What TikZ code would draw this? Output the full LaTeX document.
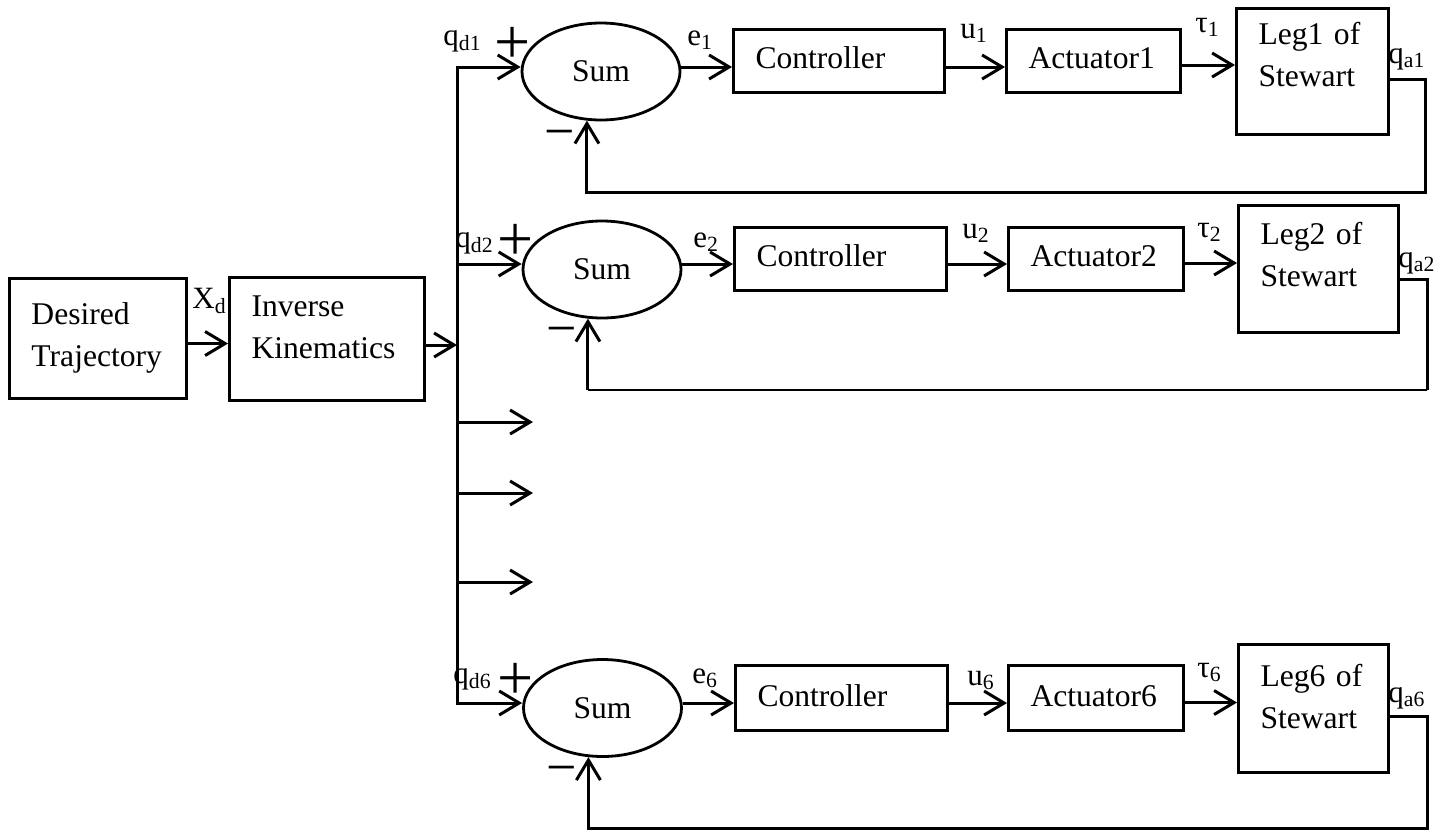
\documentclass[tikz,border=0pt]{standalone}
\usepackage{fontspec}
\setmainfont{Liberation Serif}
\usetikzlibrary{arrows.meta,positioning,calc,shapes.geometric}

\begin{document}
\begin{tikzpicture}[
  x=0.5pt, y=-0.5pt,
  every node/.style={font=\fontsize{15.8}{21}\selectfont},
  blk/.style={draw,line width=1.5pt,anchor=north west,align=left,inner xsep=11pt,inner ysep=0pt,text height=19.5pt},
  sum/.style={draw,ellipse,line width=1.4pt,minimum width=79pt,minimum height=48.5pt,inner sep=0pt},
  lbl/.style={anchor=base west,inner sep=0pt,font=\fontsize{15.5}{18}\selectfont},
  plus/.style={inner sep=0pt,font=\fontsize{32}{32}\selectfont},
  minus/.style={inner sep=0pt,font=\fontsize{27}{27}\selectfont},
  wire/.style={line width=1.5pt},
  arrow/.style={-{Straight Barb[length=10pt,width=12pt]},line width=1.5pt},
  biarrow/.style={{Straight Barb[length=10pt,width=12pt]}-{Straight Barb[length=10pt,width=12pt]},line width=1.5pt}
]
  \useasboundingbox (0,0) rectangle (1451,831);

  \node[blk,text width=66.5pt,text height=23pt,text depth=37pt] (des) at (8,277) {Desired\\Trajectory};
  \node[blk,text width=75.5pt,text depth=42pt] (inv) at (228,276) {Inverse\\Kinematics};
  \node[lbl] (xd) at (192,308) {X\textsubscript{d}};

  \coordinate (b1) at (457,67);
  \coordinate (b2) at (457,264);
  \coordinate (b6) at (457,703);
  \coordinate (bk) at (457,345);
  \coordinate (bm1) at (457,422);
  \coordinate (bm2) at (457,493);
  \coordinate (bm3) at (457,582);
  \coordinate (m1) at (533,422);
  \coordinate (m2) at (533,493);
  \coordinate (m3) at (533,582);
  \coordinate (f1) at (1425,192);
  \coordinate (f2) at (1427,390);
  \coordinate (f6) at (1427,828);

  \node[sum] (sum1) at (601,71.5) {Sum};
  \node[blk,text width=83.5pt,text depth=12pt] (ctrl1) at (732,28) {Controller};
  \node[blk,text width=65pt,text depth=12pt] (act1) at (1005,28) {Actuator1};
  \node[blk,text width=54pt,text height=18pt,text depth=45pt] (leg1) at (1235,7) {Leg1 of\\Stewart};

  \node[sum] (sum2) at (602,269.5) {Sum};
  \node[blk,text width=84pt,text depth=12pt] (ctrl2) at (733,226) {Controller};
  \node[blk,text width=65.5pt,text depth=12pt] (act2) at (1007,226) {Actuator2};
  \node[blk,text width=58pt,text depth=44pt] (leg2) at (1237,204) {Leg2 of\\Stewart};

  \node[sum] (sum6) at (602.5,708) {Sum};
  \node[blk,text width=84pt,text height=20.5pt,text depth=12pt] (ctrl6) at (734,664) {Controller};
  \node[blk,text width=65.5pt,text height=20.5pt,text depth=12pt] (act6) at (1007,664) {Actuator6};
  \node[blk,text width=53pt,text height=21pt,text depth=43pt] (leg6) at (1237,643) {Leg6 of\\Stewart};

  \node[lbl] (qd1) at (443,45) {q\textsubscript{d1}};
  \node[lbl] (qd2) at (455,247) {q\textsubscript{d2}};
  \node[lbl] (qd6) at (453,683) {q\textsubscript{d6}};
  \node[lbl] (e1) at (687,45) {e\textsubscript{1}};
  \node[lbl] (e2) at (693,247) {e\textsubscript{2}};
  \node[lbl] (e6) at (692,683) {e\textsubscript{6}};
  \node[lbl] (u1) at (960,38) {u\textsubscript{1}};
  \node[lbl] (u2) at (962,238) {u\textsubscript{2}};
  \node[lbl] (u6) at (967,685) {u\textsubscript{6}};
  \node[lbl] (t1) at (1195,32) {τ\textsubscript{1}};
  \node[lbl] (t2) at (1197,237) {τ\textsubscript{2}};
  \node[lbl] (t6) at (1197,677) {τ\textsubscript{6}};
  \node[lbl] (qa1) at (1388,63) {q\textsubscript{a1}};
  \node[lbl] (qa2) at (1398,267) {q\textsubscript{a2}};
  \node[lbl] (qa6) at (1388,702) {q\textsubscript{a6}};

  \node[plus] (p1) at (513,45) {+};
  \node[plus] (p2) at (516,242) {+};
  \node[plus] (p6) at (516,681) {+};
  \node[minus] (n1) at (560,140) {−};
  \node[minus] (n2) at (562,337) {−};
  \node[minus] (n6) at (562,776) {−};

  \draw[arrow] ($(des.east)+(0,5)$) -- ($(des.east -| inv.west)+(0,5)$);
  \draw[arrow] (inv.east |- bk) -- (bk);
  \draw[biarrow] (b1 -| sum1.west) -- (b1) -- (b6) -- (b6 -| sum6.west);
  \draw[arrow] (b2) -- (b2 -| sum2.west);
  \draw[arrow] (bm1) -- (m1);
  \draw[arrow] (bm2) -- (m2);
  \draw[arrow] (bm3) -- (m3);

  \draw[arrow] (b1 -| sum1.east) -- (b1 -| ctrl1.west);
  \draw[arrow] (b1 -| ctrl1.east) -- (b1 -| act1.west);
  \draw[arrow] ($(act1.east)+(0,4)$) -- ($(act1.east -| leg1.west)+(0,4)$);
  \draw[arrow] ($(leg1.east)+(0,8)$) -| (f1) -| (sum1.254);

  \draw[arrow] (b2 -| sum2.east) -- (b2 -| ctrl2.west);
  \draw[arrow] (b2 -| ctrl2.east) -- (b2 -| act2.west);
  \draw[arrow] ($(act2.east)+(0,4)$) -- ($(act2.east -| leg2.west)+(0,4)$);
  \draw[wire] ($(leg2.east)+(0,10.5)$) -| (f2);
  \draw[line width=0.8pt] (f2) -- (f2 -| sum2.254);
  \draw[arrow] (f2 -| sum2.254) -- (sum2.254);

  \draw[arrow] (b6 -| sum6.east) -- (b6 -| ctrl6.west);
  \draw[arrow] (b6 -| ctrl6.east) -- (b6 -| act6.west);
  \draw[arrow] ($(act6.east)+(0,4.5)$) -- ($(act6.east -| leg6.west)+(0,4.5)$);
  \draw[arrow] ($(leg6.east)+(0,8)$) -| (f6) -| (sum6.254);
\end{tikzpicture}
\end{document}
